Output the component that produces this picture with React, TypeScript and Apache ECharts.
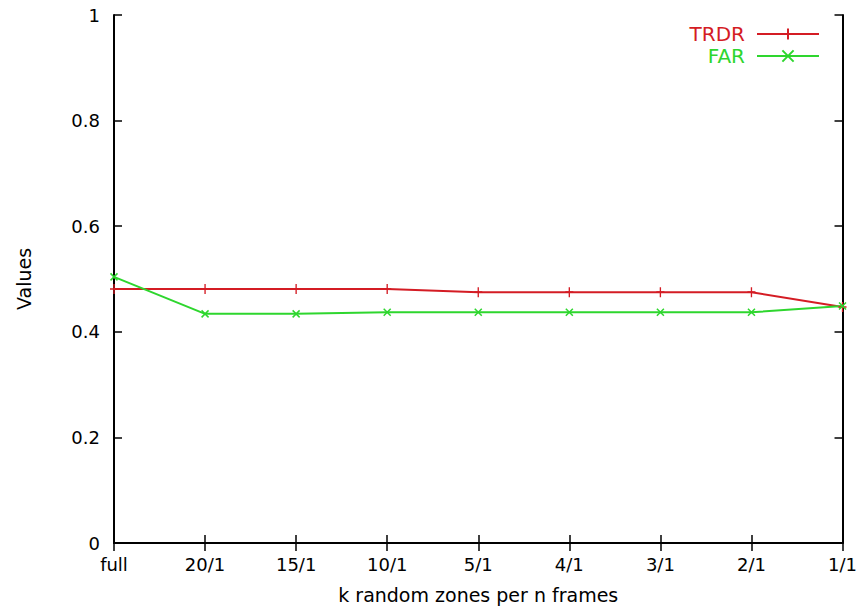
import React, { useEffect, useRef } from "react";
import * as echarts from "echarts";

const categories = ["full", "20/1", "15/1", "10/1", "5/1", "4/1", "3/1", "2/1", "1/1"];
const trdr = [0.481, 0.481, 0.481, 0.481, 0.475, 0.475, 0.475, 0.475, 0.447];
const far = [0.504, 0.434, 0.434, 0.437, 0.437, 0.437, 0.437, 0.437, 0.449];
const yTicks = [0, 0.2, 0.4, 0.6, 0.8, 1];

const RED = "#d41c24";
const GREEN = "#2ed62e";
const FONT = "DejaVu Sans, sans-serif";

export default function App() {
  const ref = useRef<HTMLDivElement>(null);
  useEffect(() => {
    if (!ref.current) return;
    const chart = echarts.init(ref.current, undefined, { renderer: "svg" });
    const axisLine = { show: true, lineStyle: { color: "#000", width: 2 } };
    const tick = { show: true, inside: true, length: 8, lineStyle: { color: "#000", width: 1.5 } };
    chart.setOption({
      animation: false,
      backgroundColor: "#fff",
      textStyle: { fontFamily: FONT },
      grid: { left: 114, right: 14, top: 15, bottom: 67 },
      legend: {
        orient: "vertical",
        right: 40,
        top: 24,
        padding: 0,
        align: "right",
        itemWidth: 62,
        itemHeight: 14,
        itemGap: 2,
        textStyle: { fontFamily: FONT, fontSize: 20, lineHeight: 20, padding: [0, 7, 0, 0] },
        data: [
          { name: "TRDR", textStyle: { color: RED } },
          { name: "FAR", textStyle: { color: GREEN } },
        ],
      },
      xAxis: [
        {
          type: "category",
          data: categories,
          boundaryGap: false,
          axisLine,
          axisTick: { ...tick, alignWithLabel: true },
          axisLabel: { color: "#000", fontSize: 18, margin: 12, fontFamily: FONT },
          splitLine: { show: false },
          name: "k random zones per n frames",
          nameLocation: "middle",
          nameGap: 42,
          nameTextStyle: { color: "#000", fontSize: 19, fontFamily: FONT },
        },
        {
          type: "category",
          data: categories,
          boundaryGap: false,
          position: "top",
          axisLine,
          axisTick: tick,
          axisLabel: { show: false },
        },
      ],
      yAxis: [
        {
          type: "value",
          min: yTicks[0],
          max: yTicks[yTicks.length - 1],
          interval: 0.2,
          axisLine,
          axisTick: tick,
          splitLine: { show: false },
          axisLabel: {
            color: "#000",
            fontSize: 18,
            margin: 14,
            fontFamily: FONT,
            formatter: (v: number) => (v === 0 || v === 1 ? String(v) : v.toFixed(1)),
          },
          name: "Values",
          nameLocation: "middle",
          nameGap: 81,
          nameTextStyle: { color: "#000", fontSize: 19, fontFamily: FONT },
        },
        {
          type: "value",
          min: 0,
          max: 1,
          interval: 0.2,
          position: "right",
          axisLine,
          axisTick: tick,
          splitLine: { show: false },
          axisLabel: { show: false },
        },
      ],
      series: [
        {
          name: "TRDR",
          type: "line",
          data: trdr,
          symbol: "path://M5,0L5,10M0,5L10,5",
          symbolSize: [8, 10],
          itemStyle: { color: RED, borderColor: RED, borderWidth: 1.5 },
          lineStyle: { color: RED, width: 2 },
        },
        {
          name: "FAR",
          type: "line",
          data: far,
          symbol: "path://M0,0L10,10M10,0L0,10",
          symbolSize: 7,
          itemStyle: { color: GREEN, borderColor: GREEN, borderWidth: 1.5 },
          lineStyle: { color: GREEN, width: 2 },
        },
      ],
    });
    return () => chart.dispose();
  }, []);
  return <div ref={ref} style={{ width: 860, height: 610, position: "absolute", left: 0, top: 0 }} />;
}
